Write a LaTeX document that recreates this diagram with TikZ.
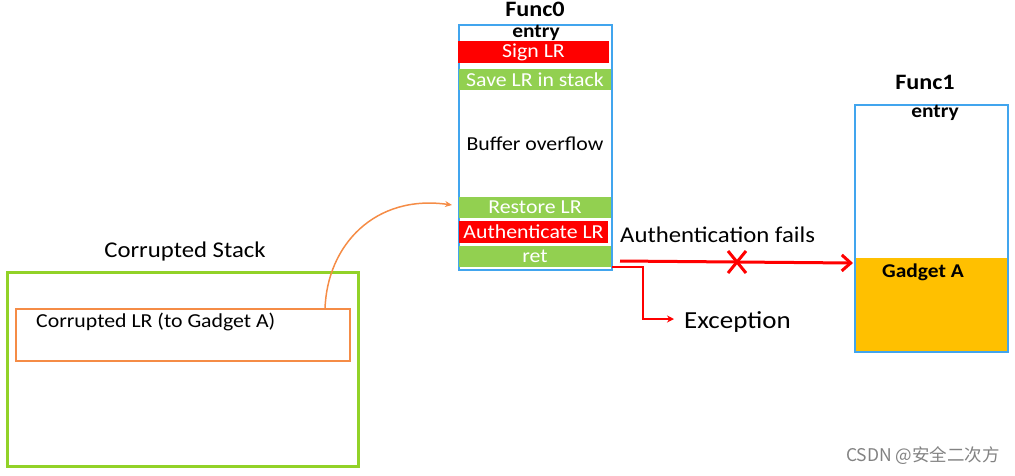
\documentclass[tikz,border=0pt]{standalone}
\usepackage{fontspec}
\setmainfont{Carlito}[FakeStretch=1.1]
\newfontfamily\cjk{Noto Sans CJK SC}
\usetikzlibrary{arrows.meta,calc}
\definecolor{fblue}{RGB}{65,165,238}
\definecolor{bargreen}{RGB}{146,208,80}
\definecolor{stackgreen}{RGB}{146,210,40}
\definecolor{lrorange}{RGB}{245,140,70}
\definecolor{gadget}{RGB}{255,192,0}
\definecolor{wm}{RGB}{130,130,130}
\tikzset{
  bar/.style={inner sep=0pt, text=white, font=\fontsize{19.8}{20}\selectfont},
  body/.style={inner sep=0pt, font=\fontsize{19.8}{20}\selectfont},
  boldlbl/.style={inner sep=0pt, font=\bfseries\fontsize{19.5}{20}\selectfont},
  title/.style={inner sep=0pt, font=\bfseries\fontsize{22}{24}\selectfont},
  big/.style={inner sep=0pt, font=\fontsize{22.5}{24}\selectfont},
  funcbox/.style={draw=fblue, line width=2.5pt},
  redline/.style={draw=red, line width=3pt},
}
\begin{document}
\begin{tikzpicture}[x=1pt,y=-1pt]
\useasboundingbox (0,0) rectangle (1015,475);
% Func0
\node[funcbox, minimum width=153pt, minimum height=245pt, inner sep=0pt] (f0) at (535.5,147.5) {};
\node[title] (f0t) at (535,9) {Func0};
\node[boldlbl] (f0e) at (536,32.5) {entry};
\node[bar, fill=red, minimum width=151pt, minimum height=22pt] (sign) at (533.5,52) {Sign LR};
\node[bar, fill=bargreen, minimum width=152pt, minimum height=21pt] (save) at (535,79.5) {Save LR in stack};
\node[body] (buf) at (535,144) {Buffer overflow};
\node[bar, fill=bargreen, minimum width=152pt, minimum height=21pt] (rest) at (535,207.5) {Restore LR};
\node[bar, fill=red, minimum width=149pt, minimum height=22pt] (auth) at (533.5,232) {Authenticate LR};
\node[bar, fill=bargreen, minimum width=152pt, minimum height=21pt] (ret) at (535,256.5) {ret};
% Func1
\node[title] (f1t) at (925,82) {Func1};
\fill[gadget] (855,258) rectangle (1008,352);
\node[funcbox, minimum width=153pt, minimum height=247pt, inner sep=0pt] (f1) at (931.5,228.5) {};
\node[boldlbl] (f1e) at (935,113) {entry};
\node[boldlbl, anchor=west] (gad) at (882,272) {Gadget A};
\coordinate (gadtop) at (853,263);
% Corrupted stack
\node[big] (cst) at (185,251) {Corrupted Stack};
\node[draw=stackgreen, line width=3pt, minimum width=351pt, minimum height=194pt, inner sep=0pt] (stack) at (182.5,369) {};
\node[draw=lrorange, line width=1.3pt, minimum width=334pt, minimum height=52pt, inner sep=0pt] (lr) at (183,335) {};
\node[body, anchor=west] (lrt) at (36,322) {Corrupted LR (to Gadget A)};
% orange curve
\coordinate (lrtop) at (325,309);
\coordinate (restin) at (452,205);
\draw[lrorange, line width=1.5pt, -{Stealth[length=7pt,width=6pt]}] (lrtop) .. controls (327,245) and (375,194) .. (restin);
% Authentication fails
\coordinate (afs) at (620,261);
\node[big, anchor=west] (aft) at (620,235) {Authentication fails};
\draw[redline, -{Straight Barb[length=9pt,width=16pt]}] (afs) -- (gadtop);
\coordinate (xm) at (737,262);
\draw[red, line width=3pt] ($(xm)+(-9,-11)$) -- ($(xm)+(9,11)$) ($(xm)+(9,-11)$) -- ($(xm)+(-9,11)$);
% Exception
\node[inner sep=0pt, anchor=west, font=\fontsize{24.5}{26}\selectfont] (exc) at (684,322) {Exception};
\coordinate (exs) at (612,267);
\draw[red, line width=2pt, -{Stealth[length=7pt,width=7pt]}] (exs) -- (643,267) -- (643,319) -- (674,319);
% watermark
\node[inner sep=0pt, anchor=east, text=wm, font=\cjk\fontsize{17.5}{18}\selectfont] (wmk) at (1000,456) {CSDN @安全二次方};
\end{tikzpicture}
\end{document}
